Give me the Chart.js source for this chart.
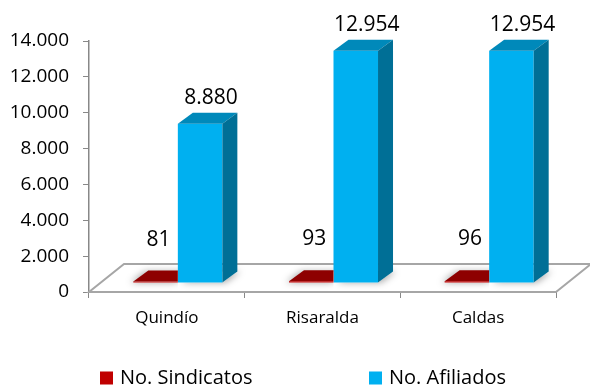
<!DOCTYPE html>
<html>
<head>
<meta charset="utf-8">
<script src="https://cdn.jsdelivr.net/npm/chart.js@4.4.1/dist/chart.umd.min.js"></script>
<style>
  html, body { margin: 0; padding: 0; background: #fff; }
</style>
</head>
<body>
<canvas id="chart" width="590" height="389"></canvas>
<script>
const categories = ['Quindío', 'Risaralda', 'Caldas'];
const sindicatos = [81, 93, 96];
const afiliados = [8880, 12954, 12954];
const seriesNames = ['No. Sindicatos', 'No. Afiliados'];
const yTicks = [0, 2000, 4000, 6000, 8000, 10000, 12000, 14000];

const FONT = "'Open Sans', Lato, sans-serif";
const AXIS_GREY = '#888888';

// bars stand back from the front edge of the floor
const SHIFT_X = 11, SHIFT_Y = 9;
// depth of each bar and of the floor
const DEPTH_X = 15, DEPTH_Y = 11;
const FLOOR_X = 35, FLOOR_Y = 28;

function fmt(v) {
  return String(v).replace(/\B(?=(\d{3})+(?!\d))/g, '.');
}

// keep a series that sits behind its right-hand neighbour from painting over it
function clipToOwnColumn(ctx, meta) {
  ctx.beginPath();
  meta.data.forEach(bar => {
    const { x, width } = bar.getProps(['x', 'width'], true);
    ctx.rect(x - width / 2 - 30, 0, width + 30, 2000);
  });
  ctx.clip();
}

const bars3d = {
  id: 'bars3d',
  beforeDatasetsDraw(chart) {
    const { ctx, chartArea: a } = chart;
    ctx.save();
    ctx.beginPath();
    ctx.moveTo(a.left, a.bottom);
    ctx.lineTo(a.right, a.bottom);
    ctx.lineTo(a.right + FLOOR_X, a.bottom - FLOOR_Y);
    ctx.lineTo(a.left + FLOOR_X, a.bottom - FLOOR_Y);
    ctx.closePath();
    ctx.fillStyle = '#ffffff';
    ctx.fill();
    ctx.strokeStyle = '#a6a6a6';
    ctx.lineWidth = 2;
    ctx.stroke();
    ctx.restore();
  },
  beforeDatasetDraw(chart, args) {
    const ctx = chart.ctx;
    const ds = chart.data.datasets[args.index];
    ctx.save();
    ctx.translate(SHIFT_X, -SHIFT_Y);
    if (ds.behindNext) clipToOwnColumn(ctx, args.meta);
    // soft shadow of each bar on the floor
    args.meta.data.forEach(bar => {
      const { x, base, width } = bar.getProps(['x', 'base', 'width'], true);
      const l = x - width / 2, r = x + width / 2;
      ctx.save();
      ctx.shadowColor = 'rgba(0,0,0,0.35)';
      ctx.shadowBlur = 7;
      ctx.shadowOffsetX = ds.shadowDx;
      ctx.beginPath();
      ctx.moveTo(l, base);
      ctx.lineTo(r, base);
      ctx.lineTo(r + DEPTH_X, base - DEPTH_Y);
      ctx.lineTo(l + DEPTH_X, base - DEPTH_Y);
      ctx.closePath();
      ctx.fillStyle = '#ffffff';
      ctx.fill();
      ctx.restore();
    });
  },
  afterDatasetDraw(chart, args) {
    const ctx = chart.ctx;
    const ds = chart.data.datasets[args.index];
    args.meta.data.forEach(bar => {
      const { x, y, base, width } = bar.getProps(['x', 'y', 'base', 'width'], true);
      const l = x - width / 2, r = x + width / 2;
      ctx.beginPath();
      ctx.moveTo(l, y);
      ctx.lineTo(l + DEPTH_X, y - DEPTH_Y);
      ctx.lineTo(r + DEPTH_X, y - DEPTH_Y);
      ctx.lineTo(r, y);
      ctx.closePath();
      ctx.fillStyle = ds.topColor;
      ctx.fill();
      ctx.beginPath();
      ctx.moveTo(r, y);
      ctx.lineTo(r + DEPTH_X, y - DEPTH_Y);
      ctx.lineTo(r + DEPTH_X, base - DEPTH_Y);
      ctx.lineTo(r, base);
      ctx.closePath();
      ctx.fillStyle = ds.sideColor;
      ctx.fill();
    });
    ctx.restore();
  },
  afterDatasetsDraw(chart) {
    const ctx = chart.ctx;
    ctx.save();
    ctx.fillStyle = '#000';
    ctx.textAlign = 'center';
    ctx.textBaseline = 'middle';
    ctx.font = `21px ${FONT}`;
    chart.data.datasets.forEach((ds, i) => {
      const meta = chart.getDatasetMeta(i);
      meta.data.forEach((bar, j) => {
        const { x, y } = bar.getProps(['x', 'y'], true);
        const tx = x + SHIFT_X + ds.labelDx;
        const ty = y - SHIFT_Y - ds.labelDy;
        ctx.fillText(fmt(ds.data[j]), tx, ty);
      });
    });
    ctx.restore();
  }
};

const legendRow = {
  id: 'legendRow',
  afterDraw(chart) {
    const ctx = chart.ctx;
    const starts = [100, 369];
    ctx.save();
    ctx.font = `20px ${FONT}`;
    ctx.textBaseline = 'middle';
    ctx.textAlign = 'left';
    chart.data.datasets.forEach((ds, i) => {
      const x = starts[i], cy = 378;
      ctx.fillStyle = ds.backgroundColor;
      ctx.fillRect(x, cy - 6.5, 13, 13);
      ctx.fillStyle = '#000';
      ctx.fillText(ds.label, x + 20, cy);
    });
    ctx.restore();
  }
};

new Chart(document.getElementById('chart'), {
  type: 'bar',
  data: {
    labels: categories,
    datasets: [
      {
        label: seriesNames[0],
        data: sindicatos,
        backgroundColor: '#c00000',
        topColor: '#8e0000',
        sideColor: '#6e0000',
        labelDx: 3,
        labelDy: 42,
        shadowDx: -3,
        behindNext: true
      },
      {
        label: seriesNames[1],
        data: afiliados,
        backgroundColor: '#00b0f0',
        topColor: '#0089ba',
        sideColor: '#006f96',
        labelDx: 11,
        labelDy: 26,
        shadowDx: 3
      }
    ]
  },
  options: {
    responsive: false,
    animation: false,
    layout: { padding: { top: 41, right: 34, left: 0, bottom: 57 } },
    datasets: {
      bar: { categoryPercentage: 0.572, barPercentage: 1, borderWidth: 0, clip: false }
    },
    plugins: {
      legend: { display: false },
      tooltip: { enabled: false }
    },
    scales: {
      x: {
        grid: { drawOnChartArea: false, tickLength: 6, color: AXIS_GREY },
        border: { color: AXIS_GREY, width: 1 },
        ticks: { color: '#000', font: { family: FONT, size: 17 }, padding: 10 },
        afterFit(scale) { scale.height = 40; }
      },
      y: {
        min: 0,
        max: 14000,
        afterBuildTicks(scale) { scale.ticks = yTicks.map(v => ({ value: v })); },
        grid: { drawOnChartArea: false, tickLength: 6, color: AXIS_GREY },
        border: { color: AXIS_GREY, width: 1.5 },
        ticks: {
          color: '#000',
          font: { family: FONT, size: 19 },
          padding: 14,
          callback: v => fmt(v)
        },
        afterFit(scale) { scale.width = 89; }
      }
    }
  },
  plugins: [bars3d, legendRow]
});
</script>
</body>
</html>
